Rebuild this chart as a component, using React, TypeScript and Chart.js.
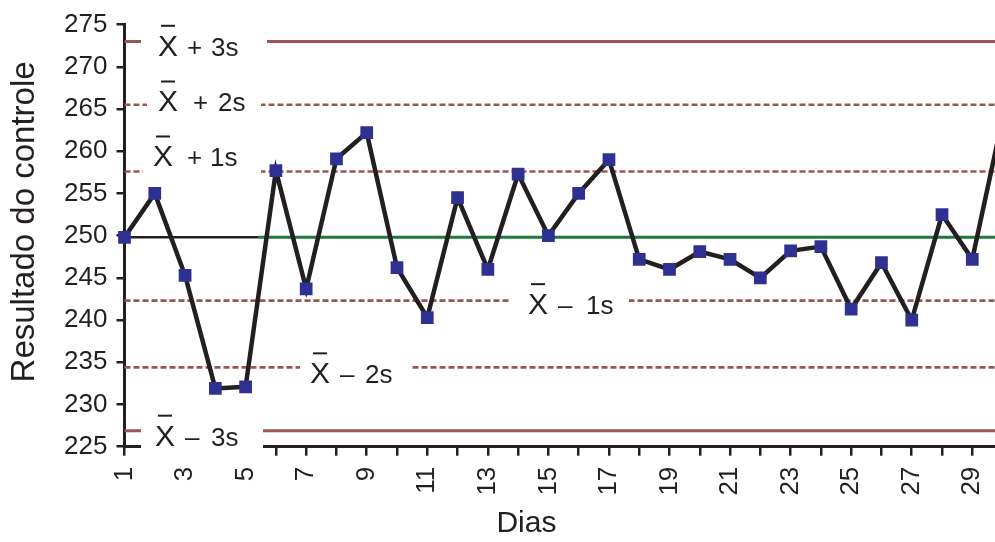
import React, { useEffect, useRef } from 'react';
import { Chart, registerables } from 'chart.js';

Chart.register(...registerables);

// ---- data ----
const DAYS = [1, 2, 3, 4, 5, 6, 7, 8, 9, 10, 11, 12, 13, 14, 15, 16, 17, 18, 19, 20, 21, 22, 23, 24, 25, 26, 27, 28, 29, 30];
const RESULTS = [249.8, 255.0, 245.3, 231.9, 232.1, 257.7, 243.7, 259.1, 262.2, 246.2, 240.3, 254.5, 246.0, 257.3, 250.0, 255.0, 259.0, 247.2, 246.0, 248.1, 247.2, 245.0, 248.2, 248.7, 241.3, 246.8, 240.0, 252.5, 247.2, 263.9];
const X_TICKS = [1, 2, 3, 4, 5, 6, 7, 8, 9, 10, 11, 12, 13, 14, 15, 16, 17, 18, 19, 20, 21, 22, 23, 24, 25, 26, 27, 28, 29];
const X_TICK_LABELS = ['1', '', '3', '', '5', '', '7', '', '9', '', '11', '', '13', '', '15', '', '17', '', '19', '', '21', '', '23', '', '25', '', '27', '', '29'];
const Y_TICKS = [225, 230, 235, 240, 245, 250, 255, 260, 265, 270, 275];
const MEAN = 249.8;
const MEAN_SPLIT_DAY = 5.41;
const LIMITS = [273.0, 265.5, 257.6, 242.3, 234.4, 226.9];
const LIMIT_SIGNS = ['+', '+', '+', '\u2013', '\u2013', '\u2013'];
const LIMIT_NUMS = ['3s', '2s', '1s', '1s', '2s', '3s'];
const LIMIT_DASHED = [false, true, true, true, true, false];
const Y_TITLE = '\u00a0\u00a0\u00a0Resultado do controle';
const X_TITLE = 'Dias\u00a0\u00a0\u00a0\u00a0\u00a0\u00a0\u00a0\u00a0';

// ---- styles (label placement, pixels) ----
const LABEL_STYLE = [
  { xX: 158, dy: 14.3, signDx: 29, numDx: 53, gap: [141, 267], coverAxis: false },
  { xX: 158, dy: 6.7, signDx: 35, numDx: 60, gap: [147, 261], coverAxis: false },
  { xX: 153, dy: -5, signDx: 34, numDx: 57, gap: [143, 261], coverAxis: false },
  { xX: 528, dy: 13.5, signDx: 30, numDx: 58, gap: [509, 629], coverAxis: false },
  { xX: 310, dy: 16, signDx: 30, numDx: 55, gap: [300, 410], coverAxis: false },
  { xX: 155, dy: 15, signDx: 30, numDx: 56, gap: [141, 263], coverAxis: true },
];

const FONT = '"Liberation Sans", Arial, Helvetica, sans-serif';
const TEXT = '#231f20';
const LIMIT_COLOR = '#9b5656';
const MEAN_GREEN = '#1d7a3a';

const controlPlugin = {
  id: 'controlLines',
  beforeDatasetsDraw(chart: any) {
    const { ctx, chartArea, scales } = chart;
    const x = scales.x;
    const y = scales.y;
    ctx.save();
    LIMITS.forEach((v, i) => {
      const py = y.getPixelForValue(v);
      ctx.beginPath();
      ctx.setLineDash(LIMIT_DASHED[i] ? [6, 3] : []);
      ctx.lineWidth = LIMIT_DASHED[i] ? 2.6 : 3;
      ctx.strokeStyle = LIMIT_COLOR;
      ctx.moveTo(chartArea.left, py);
      ctx.lineTo(chartArea.right, py);
      ctx.stroke();
    });
    ctx.setLineDash([]);
    const my = y.getPixelForValue(MEAN);
    const split = x.getPixelForValue(MEAN_SPLIT_DAY);
    ctx.lineWidth = 2.5;
    ctx.strokeStyle = TEXT;
    ctx.beginPath();
    ctx.moveTo(chartArea.left, my);
    ctx.lineTo(split, my);
    ctx.stroke();
    ctx.strokeStyle = MEAN_GREEN;
    ctx.lineWidth = 3;
    ctx.beginPath();
    ctx.moveTo(split, my);
    ctx.lineTo(chartArea.right, my);
    ctx.stroke();

    LIMITS.forEach((v, i) => {
      const s = LABEL_STYLE[i];
      const py = y.getPixelForValue(v);
      ctx.fillStyle = '#ffffff';
      const top = py - 4;
      const bottom = s.coverAxis ? y.bottom + 11 : py + 4;
      ctx.fillRect(s.gap[0], top, s.gap[1] - s.gap[0], bottom - top);
      const base = py + s.dy;
      ctx.fillStyle = TEXT;
      ctx.textBaseline = 'alphabetic';
      ctx.textAlign = 'left';
      ctx.font = `30px ${FONT}`;
      ctx.fillText('X', s.xX, base);
      const w = ctx.measureText('X').width;
      ctx.fillRect(s.xX + 3, base - 31, w - 6, 2);
      ctx.font = `26px ${FONT}`;
      ctx.fillText(LIMIT_SIGNS[i], s.xX + s.signDx, base);
      ctx.fillText(LIMIT_NUMS[i], s.xX + s.numDx, base);
    });
    ctx.restore();
  },
};

// stretch the x scale / plot area so it reaches the canvas' right edge
const rightEdgePlugin = {
  id: 'rightEdge',
  afterLayout(chart: any) {
    const x = chart.scales.x;
    const R = chart.width;
    if (x && Math.abs(x.right - R) > 0.1) {
      x.right = R;
      x.width = R - x.left;
      x.configure();
      chart.chartArea.right = R;
      chart.chartArea.width = R - chart.chartArea.left;
    }
  },
};

export default function App() {
  const ref = useRef<HTMLCanvasElement | null>(null);
  useEffect(() => {
    if (!ref.current) return;
    const chart: any = new Chart(ref.current, {
      type: 'line',
      data: {
        datasets: [
          {
            data: DAYS.map((d, i) => ({ x: d, y: RESULTS[i] })),
            borderColor: TEXT,
            borderWidth: 4.5,
            pointStyle: 'rect',
            pointRadius: 9,
            pointHoverRadius: 9,
            pointBackgroundColor: '#2e3192',
            pointBorderWidth: 0,
            tension: 0,
            clip: { left: 20, top: 20, bottom: 20, right: 0 } as any,
          } as any,
        ],
      },
      options: {
        animation: false,
        responsive: false,
        devicePixelRatio: 1,
        layout: { padding: { top: 24, right: 0, left: 0, bottom: 0 } },
        plugins: { legend: { display: false }, tooltip: { enabled: false } },
        scales: {
          x: {
            type: 'linear',
            min: 1,
            max: 29.75,
            afterBuildTicks: (s: any) => {
              s.ticks = X_TICKS.map((v) => ({ value: v }));
            },
            afterFit: (s: any) => {
              s.height = 95.3;
              s.paddingRight = 0;
              s.paddingLeft = 0;
            },
            ticks: {
              autoSkip: false,
              includeBounds: false,
              minRotation: 90,
              maxRotation: 90,
              padding: 11,
              color: TEXT,
              font: { family: FONT, size: 26 },
              callback: (_v: any, i: number) => X_TICK_LABELS[i],
            },
            grid: { display: true, drawOnChartArea: false, drawTicks: true, tickLength: 9, color: TEXT, lineWidth: 2.5, z: -1 },
            border: { display: true, color: TEXT, width: 3 },
            title: { display: true, text: X_TITLE, color: TEXT, font: { family: FONT, size: 30 }, padding: { top: 0, bottom: 0 } },
          },
          y: {
            type: 'linear',
            min: 225,
            max: 275,
            afterBuildTicks: (s: any) => {
              s.ticks = Y_TICKS.map((v) => ({ value: v }));
            },
            afterFit: (s: any) => {
              s.width = 124.5;
            },
            ticks: { padding: 9, color: TEXT, font: { family: FONT, size: 26 } },
            grid: { display: true, drawOnChartArea: false, drawTicks: true, tickLength: 8, color: TEXT, lineWidth: 2.5, z: -1 },
            border: { display: true, color: TEXT, width: 3 },
            title: { display: true, text: Y_TITLE, color: TEXT, font: { family: FONT, size: 33 }, padding: { top: 5, bottom: 0 } },
          },
        },
      } as any,
      plugins: [rightEdgePlugin, controlPlugin],
    });
    return () => chart.destroy();
  }, []);
  return (
    <div style={{ position: 'absolute', left: 0, top: 0, width: 995, height: 542 }}>
      <canvas ref={ref} width={995} height={542} style={{ display: 'block', width: 995, height: 542 }} />
    </div>
  );
}
